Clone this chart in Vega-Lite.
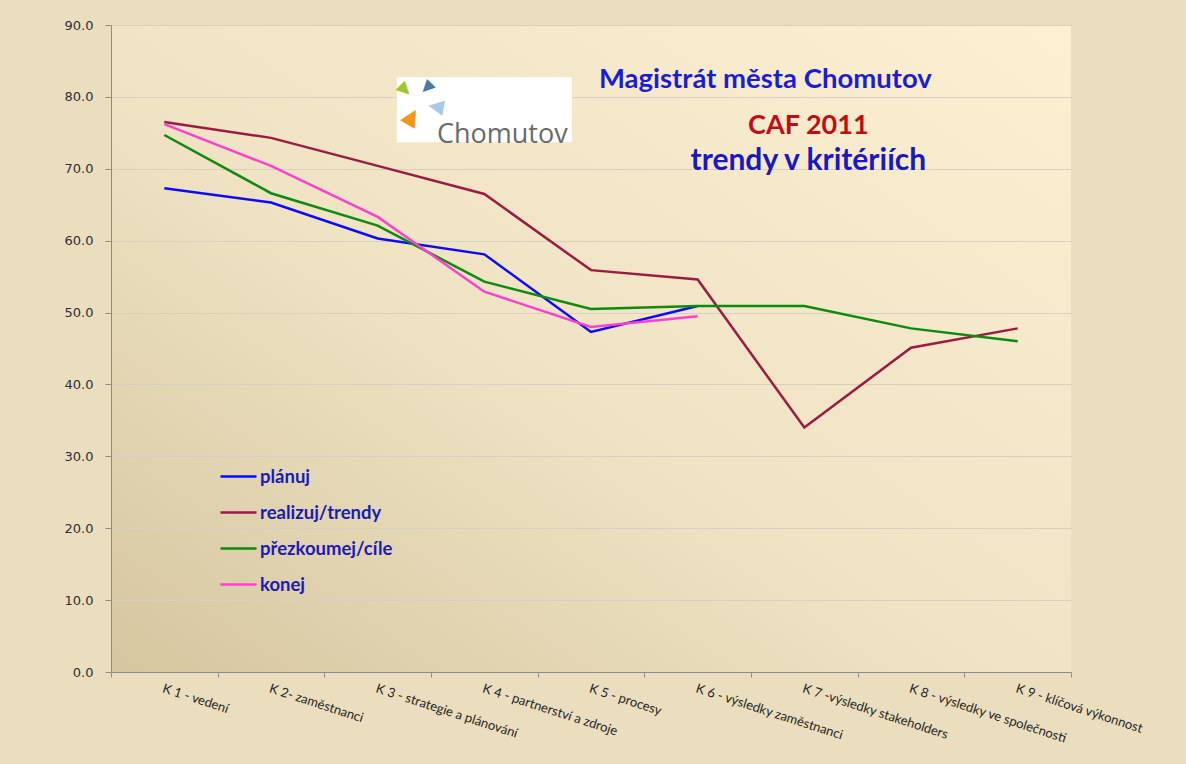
{
  "$schema": "https://vega.github.io/schema/vega-lite/v6.json",
  "width": 960,
  "height": 647,
  "autosize": {"type": "none"},
  "padding": {"left": 111, "top": 25, "right": 115, "bottom": 92},
  "background": "#eadebe",
  "config": {
    "font": "Lato",
    "view": {
      "stroke": null,
      "fill": {
        "gradient": "linear",
        "x1": 0, "y1": 1, "x2": 1, "y2": 0,
        "stops": [
          {"offset": 0, "color": "#d5c69f"},
          {"offset": 0.45, "color": "#efe3c4"},
          {"offset": 1, "color": "#fcefd2"}
        ]
      }
    },
    "axisX": {
      "title": null,
      "labelAngle": 18,
      "labelAlign": "left",
      "labelBaseline": "top",
      "labelFont": "Lato",
      "labelFontSize": 13,
      "labelColor": "#262626",
      "labelPadding": 5,
      "tickBand": "extent",
      "tickSize": 5,
      "tickColor": "#8c8c8c",
      "domainColor": "#8c8c8c",
      "grid": false
    },
    "axisY": {
      "title": null,
      "labelFont": "DejaVu Sans",
      "labelFontSize": 13,
      "labelColor": "#2a303c",
      "labelPadding": 12,
      "tickSize": 6,
      "tickColor": "#8c8c8c",
      "domainColor": "#8c8c8c",
      "gridColor": "#d6d0c0",
      "gridWidth": 1
    }
  },
  "layer": [
    {
      "data": {
        "values": [
          {"k": "K 1 - vedení", "s": "plánuj", "v": 67.3},
          {"k": "K 2- zaměstnanci", "s": "plánuj", "v": 65.3},
          {"k": "K 3 - strategie a plánování", "s": "plánuj", "v": 60.3},
          {"k": "K 4 - partnerství a zdroje", "s": "plánuj", "v": 58.1},
          {"k": "K 5 - procesy", "s": "plánuj", "v": 47.3},
          {"k": "K 6 - výsledky zaměstnanci", "s": "plánuj", "v": 50.9},
          {"k": "K 1 - vedení", "s": "realizuj/trendy", "v": 76.5},
          {"k": "K 2- zaměstnanci", "s": "realizuj/trendy", "v": 74.3},
          {"k": "K 3 - strategie a plánování", "s": "realizuj/trendy", "v": 70.4},
          {"k": "K 4 - partnerství a zdroje", "s": "realizuj/trendy", "v": 66.5},
          {"k": "K 5 - procesy", "s": "realizuj/trendy", "v": 55.9},
          {"k": "K 6 - výsledky zaměstnanci", "s": "realizuj/trendy", "v": 54.6},
          {"k": "K 7 -výsledky stakeholders", "s": "realizuj/trendy", "v": 34.0},
          {"k": "K 8 - výsledky ve společnosti", "s": "realizuj/trendy", "v": 45.1},
          {"k": "K 9 - klíčová výkonnost", "s": "realizuj/trendy", "v": 47.8},
          {"k": "K 1 - vedení", "s": "přezkoumej/cíle", "v": 74.7},
          {"k": "K 2- zaměstnanci", "s": "přezkoumej/cíle", "v": 66.6},
          {"k": "K 3 - strategie a plánování", "s": "přezkoumej/cíle", "v": 62.1},
          {"k": "K 4 - partnerství a zdroje", "s": "přezkoumej/cíle", "v": 54.3},
          {"k": "K 5 - procesy", "s": "přezkoumej/cíle", "v": 50.5},
          {"k": "K 6 - výsledky zaměstnanci", "s": "přezkoumej/cíle", "v": 50.9},
          {"k": "K 7 -výsledky stakeholders", "s": "přezkoumej/cíle", "v": 50.9},
          {"k": "K 8 - výsledky ve společnosti", "s": "přezkoumej/cíle", "v": 47.8},
          {"k": "K 9 - klíčová výkonnost", "s": "přezkoumej/cíle", "v": 46.0},
          {"k": "K 1 - vedení", "s": "konej", "v": 76.2},
          {"k": "K 2- zaměstnanci", "s": "konej", "v": 70.4},
          {"k": "K 3 - strategie a plánování", "s": "konej", "v": 63.3},
          {"k": "K 4 - partnerství a zdroje", "s": "konej", "v": 52.9},
          {"k": "K 5 - procesy", "s": "konej", "v": 48.0},
          {"k": "K 6 - výsledky zaměstnanci", "s": "konej", "v": 49.5}
        ]
      },
      "mark": {"type": "line", "strokeWidth": 2.5},
      "encoding": {
        "x": {
          "field": "k",
          "type": "nominal",
          "bandPosition": 0.5,
          "sort": ["K 1 - vedení", "K 2- zaměstnanci", "K 3 - strategie a plánování", "K 4 - partnerství a zdroje", "K 5 - procesy", "K 6 - výsledky zaměstnanci", "K 7 -výsledky stakeholders", "K 8 - výsledky ve společnosti", "K 9 - klíčová výkonnost"],
          "scale": {"type": "band", "paddingInner": 0, "paddingOuter": 0}
        },
        "y": {
          "field": "v",
          "type": "quantitative",
          "scale": {"domain": [0, 90], "nice": false},
          "axis": {"values": [0, 10, 20, 30, 40, 50, 60, 70, 80, 90], "format": ".1f"}
        },
        "color": {
          "field": "s",
          "type": "nominal",
          "scale": {
            "domain": ["plánuj", "realizuj/trendy", "přezkoumej/cíle", "konej"],
            "range": ["#0a0aff", "#9b1b45", "#0e8a0e", "#ff3fd2"]
          },
          "legend": {
            "title": null,
            "orient": "none",
            "legendX": 108,
            "legendY": 432,
            "padding": 0,
            "symbolType": "stroke",
            "symbolSize": 1296,
            "symbolStrokeWidth": 2.5,
            "labelFont": "Lato",
            "labelFontSize": 18.5,
            "labelFontWeight": "bold",
            "labelColor": "#1a1ab8",
            "labelOffset": 2,
            "rowPadding": 7
          }
        }
      }
    },
    {
      "data": {"values": [{"a": 1}]},
      "mark": {"type": "point", "shape": "M-1,-0.371H1V0.371H-1Z", "filled": true, "color": "#ffffff", "opacity": 1, "size": 30625},
      "encoding": {"x": {"datum": "K 4 - partnerství a zdroje", "type": "nominal", "bandPosition": 0.5}, "y": {"datum": 78.2, "type": "quantitative"}}
    },
    {
      "data": {"values": [{"a": 1}]},
      "mark": {"type": "text", "text": "Chomutov", "font": "Open Sans", "fontSize": 27, "color": "#6a6a6a", "align": "center", "baseline": "alphabetic", "dx": 18},
      "encoding": {"x": {"datum": "K 4 - partnerství a zdroje", "type": "nominal", "bandPosition": 0.5}, "y": {"datum": 73.6, "type": "quantitative"}}
    },
    {
      "data": {"values": [{"a": 1}]},
      "mark": {"type": "text", "text": "▲", "font": "DejaVu Sans", "fontSize": 17, "color": "#9cc82a", "align": "center", "baseline": "middle", "angle": 135, "dx": 55.9, "dy": 55.9},
      "encoding": {"x": {"datum": "K 4 - partnerství a zdroje", "type": "nominal", "bandPosition": 0.5}, "y": {"datum": 80.9, "type": "quantitative"}}
    },
    {
      "data": {"values": [{"a": 1}]},
      "mark": {"type": "text", "text": "▲", "font": "DejaVu Sans", "fontSize": 16, "color": "#4a78ab", "align": "center", "baseline": "middle", "angle": 225, "dx": 41, "dy": -41},
      "encoding": {"x": {"datum": "K 4 - partnerství a zdroje", "type": "nominal", "bandPosition": 0.5}, "y": {"datum": 81.2, "type": "quantitative"}}
    },
    {
      "data": {"values": [{"a": 1}]},
      "mark": {"type": "text", "text": "▲", "font": "DejaVu Sans", "fontSize": 20, "color": "#a9c9e9", "align": "center", "baseline": "middle", "angle": 280, "dx": -8.5, "dy": -48.3},
      "encoding": {"x": {"datum": "K 4 - partnerství a zdroje", "type": "nominal", "bandPosition": 0.5}, "y": {"datum": 78.6, "type": "quantitative"}}
    },
    {
      "data": {"values": [{"a": 1}]},
      "mark": {"type": "text", "text": "▲", "font": "DejaVu Sans", "fontSize": 22, "color": "#f3961e", "align": "center", "baseline": "middle", "angle": 30, "dx": -62.4, "dy": 36},
      "encoding": {"x": {"datum": "K 4 - partnerství a zdroje", "type": "nominal", "bandPosition": 0.5}, "y": {"datum": 77.3, "type": "quantitative"}}
    },
    {
      "data": {"values": [{"a": 1}]},
      "mark": {"type": "text", "text": "Magistrát města Chomutov", "fontSize": 27.5, "fontWeight": "bold", "color": "#1c1cd6", "align": "center", "baseline": "alphabetic", "dx": -39},
      "encoding": {"x": {"datum": "K 7 -výsledky stakeholders", "type": "nominal", "bandPosition": 0.5}, "y": {"datum": 81.2, "type": "quantitative"}}
    },
    {
      "data": {"values": [{"a": 1}]},
      "mark": {"type": "text", "text": "CAF 2011", "fontSize": 27, "fontWeight": "bold", "color": "#c00d12", "align": "center", "baseline": "alphabetic", "dx": 4},
      "encoding": {"x": {"datum": "K 7 -výsledky stakeholders", "type": "nominal", "bandPosition": 0.5}, "y": {"datum": 74.9, "type": "quantitative"}}
    },
    {
      "data": {"values": [{"a": 1}]},
      "mark": {"type": "text", "text": "trendy v kritériích", "fontSize": 30, "fontWeight": "bold", "color": "#1818c4", "align": "center", "baseline": "alphabetic", "dx": 4},
      "encoding": {"x": {"datum": "K 7 -výsledky stakeholders", "type": "nominal", "bandPosition": 0.5}, "y": {"datum": 69.8, "type": "quantitative"}}
    }
  ]
}
